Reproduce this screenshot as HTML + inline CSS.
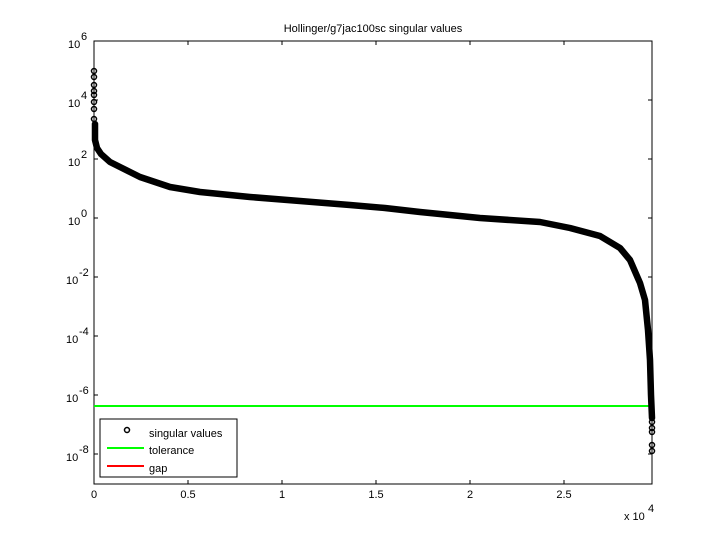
<!DOCTYPE html>
<html><head><style>body{margin:0;background:#fff}svg{display:block}text{font-family:"Liberation Sans",sans-serif;font-size:11px;fill:#000}</style></head><body>
<svg width="720" height="540" viewBox="0 0 720 540">
<rect width="720" height="540" fill="#fff"/>
<text x="373" y="32" text-anchor="middle" font-size="11">Hollinger/g7jac100sc singular values</text>
<g stroke="#000" fill="none" stroke-width="1">
<rect x="94" y="41" width="558" height="443"/>
<path d="M94 41h4M94 100h4M94 159h4M94 218h4M94 277h4M94 336h4M94 395h4M94 454h4M652 100h-4M652 159h-4M652 218h-4M652 277h-4M652 336h-4M652 395h-4M652 454h-4"/>
<path d="M188 484v-4M282 484v-4M376 484v-4M470 484v-4M564 484v-4M188 41v4M282 41v4M376 41v4M470 41v4M564 41v4"/>
</g>
<g font-size="11">
<text x="68" y="48">10</text><text x="81" y="40" font-size="8">6</text>
<text x="68" y="107">10</text><text x="81" y="99" font-size="8">4</text>
<text x="68" y="166">10</text><text x="81" y="158" font-size="8">2</text>
<text x="68" y="225">10</text><text x="81" y="217" font-size="8">0</text>
<text x="66" y="284">10</text><text x="79" y="276" font-size="8">-2</text>
<text x="66" y="343">10</text><text x="79" y="335" font-size="8">-4</text>
<text x="66" y="402">10</text><text x="79" y="394" font-size="8">-6</text>
<text x="66" y="461">10</text><text x="79" y="453" font-size="8">-8</text>
<text x="94" y="498" text-anchor="middle">0</text>
<text x="188" y="498" text-anchor="middle">0.5</text>
<text x="282" y="498" text-anchor="middle">1</text>
<text x="376" y="498" text-anchor="middle">1.5</text>
<text x="470" y="498" text-anchor="middle">2</text>
<text x="564" y="498" text-anchor="middle">2.5</text>
<text x="624" y="520">x 10</text><text x="648" y="512" font-size="8">4</text>
</g>
<line x1="94" y1="406" x2="652" y2="406" stroke="#00ff00" stroke-width="2"/>
<polyline fill="none" stroke="#000" stroke-width="6.5" stroke-linejoin="round" stroke-linecap="round" points="95,124 95,140 97,148 101,154 110,162 120,167 130,172 140,177 155,182 170,187 182,189 200,192 250,197 300,201 350,205 385,208 420,212 450,215 480,218 540,222 570,228 600,236 620,248 630,260 640,283 645,300 648,330 650,360 651,395 652,418"/>
<g fill="none" stroke="#000" stroke-width="1.5">
<circle cx="94" cy="71" r="2.5"/><circle cx="94" cy="77" r="2.5"/><circle cx="94" cy="85" r="2.5"/><circle cx="94" cy="91" r="2.5"/><circle cx="94" cy="95" r="2.5"/><circle cx="94" cy="102" r="2.5"/><circle cx="94" cy="109" r="2.5"/><circle cx="94" cy="119" r="2.5"/>
<circle cx="652" cy="422" r="2.5"/><circle cx="652" cy="428" r="2.5"/><circle cx="652" cy="432" r="2.5"/><circle cx="652" cy="445" r="2.5"/><circle cx="652" cy="451" r="2.5"/>
</g>
<rect x="100" y="419" width="137" height="58" fill="#fff" stroke="#000"/>
<circle cx="127" cy="430" r="2.5" fill="none" stroke="#000" stroke-width="1.5"/>
<text x="149" y="437">singular values</text>
<line x1="107" y1="448" x2="144" y2="448" stroke="#00ff00" stroke-width="2"/>
<text x="149" y="454">tolerance</text>
<line x1="107" y1="466" x2="144" y2="466" stroke="#ff0000" stroke-width="2"/>
<text x="149" y="472">gap</text>
</svg>
</body></html>
